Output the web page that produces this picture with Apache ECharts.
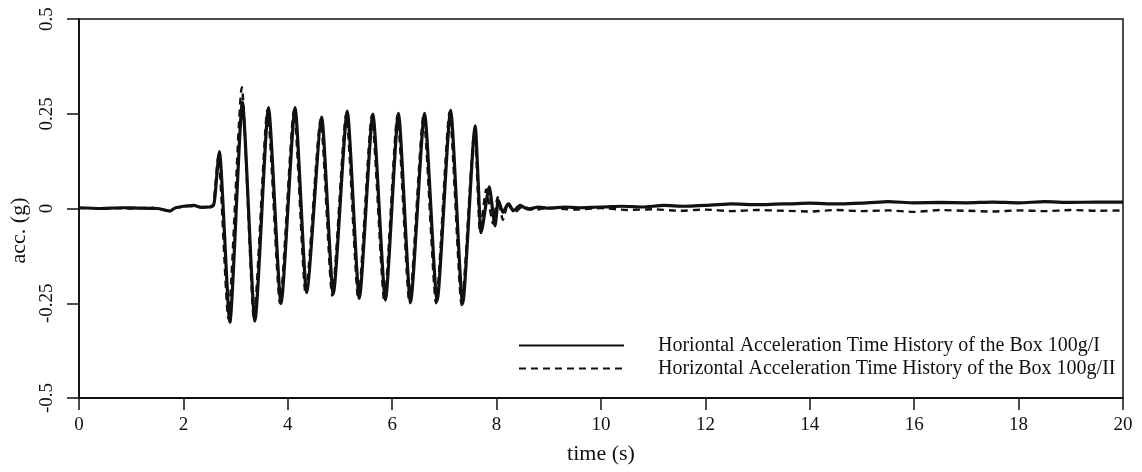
<!DOCTYPE html>
<html>
<head>
<meta charset="utf-8">
<script src="https://cdn.jsdelivr.net/npm/echarts@6/dist/echarts.min.js"></script>
<style>
html,body{margin:0;padding:0;background:#fff;}
#c{width:1142px;height:472px;}
</style>
</head>
<body>
<div id="c"></div>
<script>
const seriesNames = ['Horiontal Acceleration Time History of the Box 100g/I',
                     'Horizontal Acceleration Time History of the Box 100g/II'];
const xTicks = [0,2,4,6,8,10,12,14,16,18,20];
const yTicks = [-0.5,-0.25,0,0.25,0.5];

const timeI = [0,0.4,0.8,1.2,1.5,1.74,1.85,2.0,2.2,2.35,2.5,2.58,2.69,2.89,3.13,3.37,3.63,3.87,4.14,4.36,4.65,4.87,5.14,5.37,5.63,5.87,6.12,6.35,6.62,6.86,7.12,7.35,7.59,7.70,7.86,7.97,8.03,8.12,8.22,8.32,8.45,8.6,8.8,9.0,9.3,9.6,10,10.4,10.8,11.2,11.6,12,12.5,13,13.5,14,14.5,15,15.5,16,16.5,17,17.5,18,18.5,19,19.5,20];
const accI  = [0.002,0.000,0.002,0.001,0.000,-0.007,0.002,0.006,0.008,0.003,0.004,0.008,0.150,-0.300,0.280,-0.297,0.266,-0.251,0.266,-0.222,0.241,-0.226,0.257,-0.237,0.249,-0.242,0.251,-0.248,0.251,-0.244,0.259,-0.251,0.218,-0.064,0.057,-0.046,0.022,-0.010,0.012,-0.006,0.008,-0.002,0.004,0.001,0.004,0.002,0.004,0.006,0.004,0.008,0.006,0.008,0.012,0.010,0.012,0.014,0.012,0.014,0.018,0.015,0.016,0.015,0.017,0.015,0.018,0.016,0.017,0.017];

const timeII = [0,0.5,1.0,1.4,1.72,1.9,2.1,2.3,2.5,2.57,2.67,2.86,3.12,3.35,3.61,3.85,4.12,4.34,4.63,4.85,5.12,5.35,5.61,5.85,6.10,6.33,6.60,6.84,7.10,7.33,7.58,7.68,7.80,7.93,8.02,8.12,8.22,8.35,8.5,8.7,9.0,9.5,10,10.5,11,11.5,12,12.5,13,13.5,14,14.5,15,15.5,16,16.5,17,17.5,18,18.5,19,19.5,20];
const accII  = [0.001,0.001,0.000,0.002,-0.006,0.003,0.007,0.004,0.003,0.006,0.140,-0.290,0.320,-0.290,0.260,-0.250,0.260,-0.225,0.235,-0.230,0.250,-0.240,0.245,-0.245,0.245,-0.250,0.245,-0.250,0.255,-0.255,0.210,-0.060,0.050,-0.040,0.030,-0.030,0.015,-0.010,0.006,-0.004,0.002,-0.003,0.001,-0.004,-0.002,-0.006,-0.003,-0.007,-0.004,-0.006,-0.008,-0.004,-0.007,-0.005,-0.009,-0.004,-0.006,-0.008,-0.005,-0.007,-0.004,-0.006,-0.005];

const pairs = (t, v) => t.map((x, i) => [x, v[i]]);
const FONT = 'Liberation Serif';
const INK = '#111';

const chart = echarts.init(document.getElementById('c'));
chart.setOption({
  backgroundColor: '#fff',
  animation: false,
  grid: {left: 79, right: 19, top: 19, bottom: 74, show: true, borderColor: INK, borderWidth: 1.5, backgroundColor: 'transparent'},
  legend: {
    orient: 'vertical', left: 513, top: 329, itemWidth: 105, itemHeight: 14, itemGap: 0,
    itemStyle: {color: 'transparent', borderWidth: 0, opacity: 0},
    textStyle: {fontFamily: FONT, fontSize: 20, lineHeight: 23, color: INK, padding: [0,0,0,29]},
    data: seriesNames
  },
  xAxis: {
    type: 'value', min: 0, max: 20, interval: 2,
    name: 'time (s)', nameLocation: 'middle', nameGap: 45,
    nameTextStyle: {fontFamily: FONT, fontSize: 22, color: INK},
    axisLine: {onZero: false, lineStyle: {color: INK, width: 1.8}},
    axisTick: {show: true, length: 12, lineStyle: {color: INK, width: 1.5}},
    axisLabel: {fontFamily: FONT, fontSize: 19, color: INK, margin: 18,
      formatter: v => xTicks.includes(v) ? String(v) : ''},
    splitLine: {show: false}
  },
  yAxis: {
    type: 'value', min: -0.5, max: 0.5, interval: 0.25,
    name: 'acc. (g)', nameLocation: 'middle', nameGap: 46, nameRotate: 90,
    nameTextStyle: {fontFamily: FONT, fontSize: 22, color: INK, padding: [0, 44, 0, 0]},
    axisLine: {show: true, onZero: false, lineStyle: {color: INK, width: 1.8}},
    axisTick: {show: true, length: 12, lineStyle: {color: INK, width: 1.5}},
    axisLabel: {fontFamily: FONT, fontSize: 19, color: INK, rotate: 90, margin: 22,
      formatter: v => yTicks.includes(v) ? String(v) : ''},
    splitLine: {show: false}
  },
  series: [
    {name: seriesNames[0], type: 'line', data: pairs(timeI, accI), showSymbol: false, symbol: 'none',
     smooth: 0.2, smoothMonotone: 'x',
     lineStyle: {color: INK, width: 3.2}, itemStyle: {color: INK}, z: 3},
    {name: seriesNames[1], type: 'line', data: pairs(timeII, accII), showSymbol: false, symbol: 'none',
     smooth: 0.2, smoothMonotone: 'x',
     lineStyle: {color: INK, width: 2.4, type: [7, 5]}, itemStyle: {color: INK}, z: 2}
  ]
});
</script>
</body>
</html>
